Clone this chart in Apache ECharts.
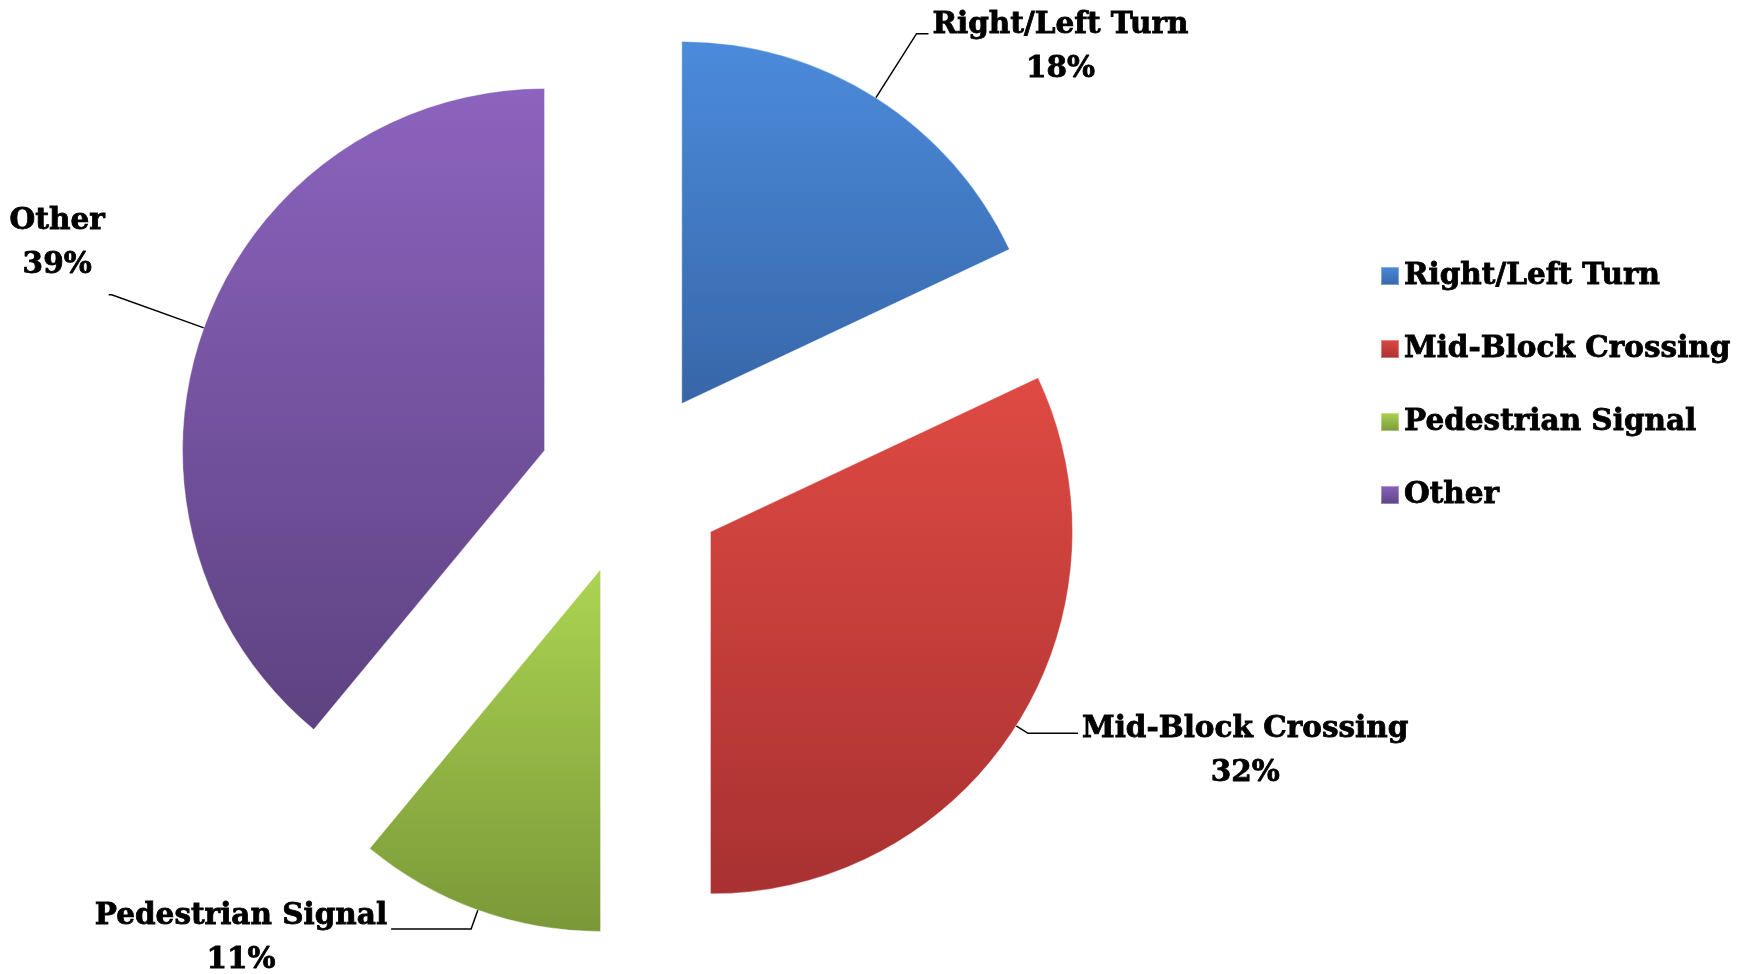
<!DOCTYPE html>
<html>
<head>
<meta charset="utf-8">
<script src="https://cdn.jsdelivr.net/npm/echarts@6/dist/echarts.min.js"></script>
<style>html,body{margin:0;padding:0;background:#fff;}#c{width:1742px;height:974px;}</style>
</head>
<body>
<div id="c"></div>
<script>
var categories = ['Right/Left Turn', 'Mid-Block Crossing', 'Pedestrian Signal', 'Other'];
var values = [18, 32, 11, 39];

var topColors = ['#4b8bdb', '#df4a43', '#acd452', '#8c63be'];
var bottomColors = ['#3766a8', '#a83131', '#7a9838', '#5d4281'];
var lineLengths = [76, 14, 20, 98];
var lineLengths2 = [12, 50, 80, 3];
var labelDy = [14, 18, 9, -51];

var FONT = '"DejaVu Serif", "Liberation Serif", serif';

var chart = echarts.init(document.getElementById('c'), null, {renderer: 'canvas'});
var data = categories.map(function (name, i) {
  return {
    name: name,
    value: values[i],
    selected: true,
    itemStyle: {
      color: new echarts.graphic.LinearGradient(0, 0, 0, 1, [
        {offset: 0, color: topColors[i]},
        {offset: 1, color: bottomColors[i]}
      ])
    },
    labelLine: {length: lineLengths[i], length2: lineLengths2[i]}
  };
});

var textBase = {fontFamily: FONT, fontWeight: 'bold', fontSize: 29.5, color: '#000',
  textBorderColor: '#000', textBorderWidth: 0.8};

chart.setOption({
  backgroundColor: '#ffffff',
  animation: false,
  color: topColors,
  legend: {
    orient: 'vertical',
    left: 1375,
    top: 255,
    itemWidth: 18,
    itemHeight: 18,
    itemGap: 41,
    icon: 'rect',
    selectedMode: false,
    textStyle: Object.assign({lineHeight: 32}, textBase),
    data: categories
  },
  series: [{
    type: 'pie',
    center: [632, 482],
    radius: 362,
    startAngle: 90,
    clockwise: true,
    selectedMode: 'multiple',
    selectedOffset: 93,
    avoidLabelOverlap: false,
    emphasis: {disabled: true},
    itemStyle: {borderColor: 'rgba(255,255,255,0.35)', borderWidth: 1},
    label: {
      show: true,
      position: 'outside',
      bleedMargin: 0,
      distanceToLabelLine: 4,
      formatter: '{n|{b}}\n{p|{d}%}',
      color: '#000',
      rich: {
        n: Object.assign({align: 'center', lineHeight: 44}, textBase),
        p: Object.assign({align: 'center', lineHeight: 44}, textBase)
      }
    },
    labelLine: {show: true, lineStyle: {color: '#000', width: 1.5}, smooth: false},
    labelLayout: function (p) {
      return {dy: labelDy[p.dataIndex], labelLinePoints: p.labelLinePoints};
    },
    data: data
  }]
});
</script>
</body>
</html>
